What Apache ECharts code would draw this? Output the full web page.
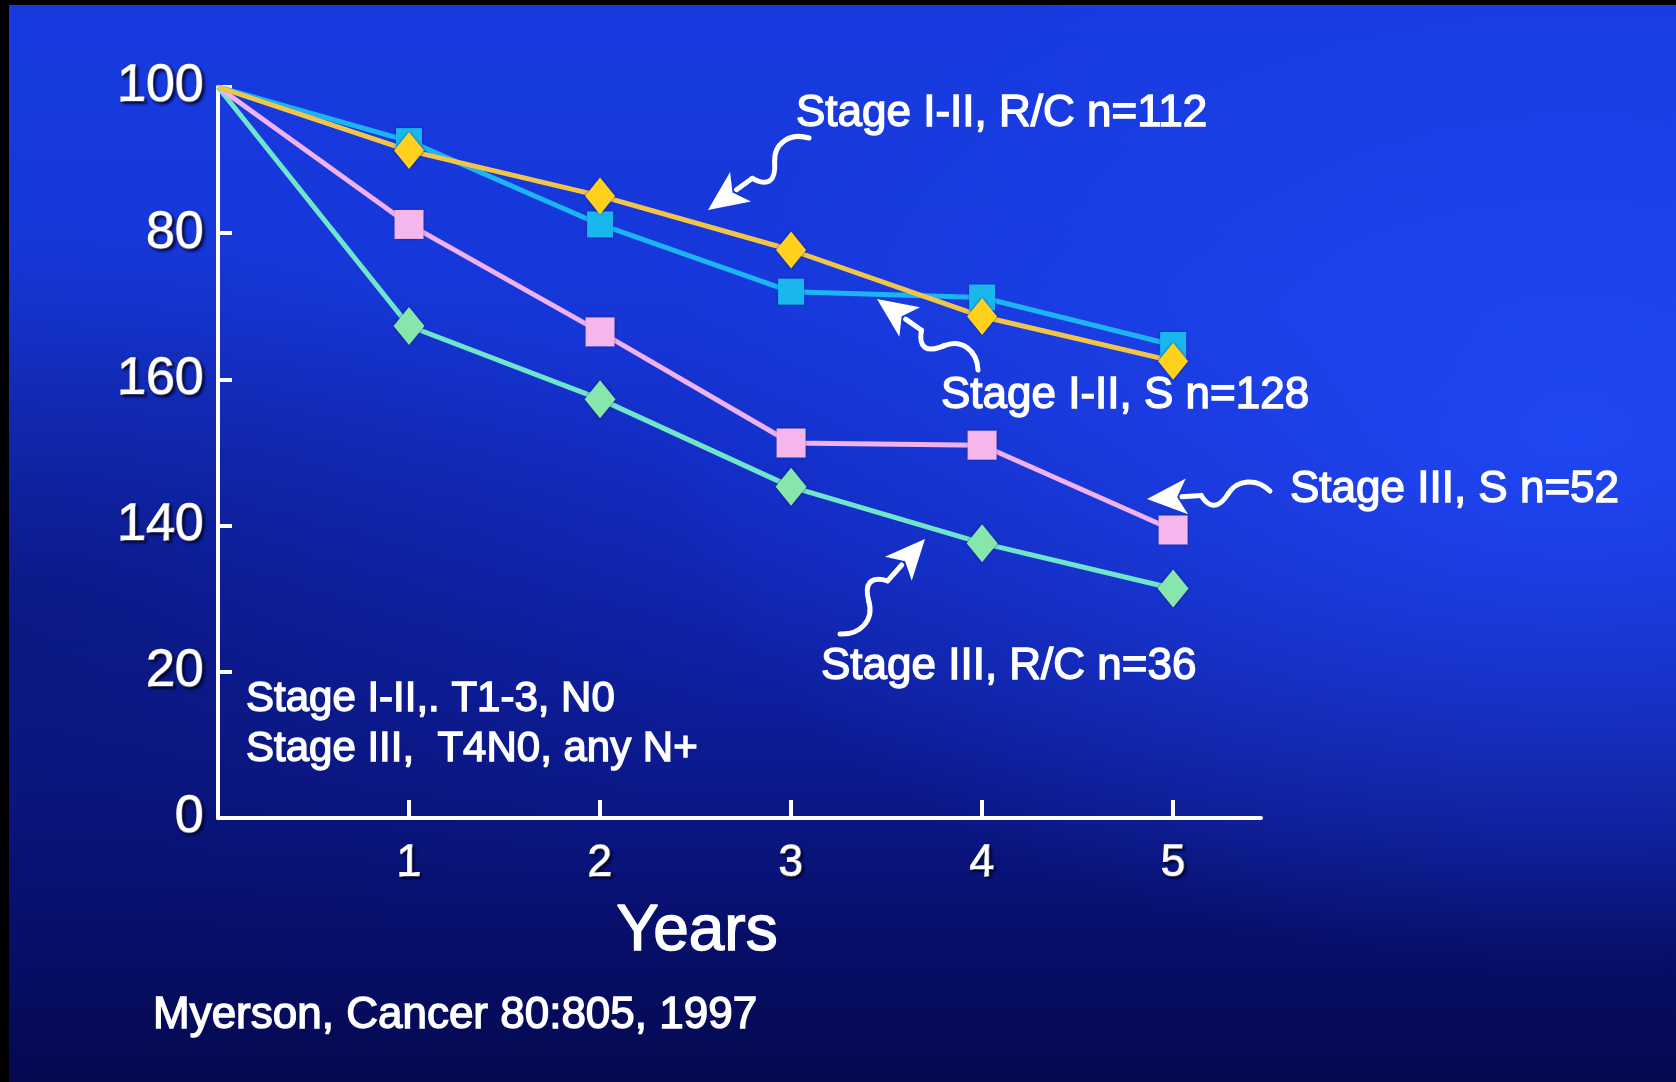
<!DOCTYPE html>
<html>
<head>
<meta charset="utf-8">
<script src="https://cdn.jsdelivr.net/npm/echarts@6/dist/echarts.min.js"></script>
<style>
  html, body { margin: 0; padding: 0; width: 1676px; height: 1082px; background: #000; overflow: hidden; }
  #bg { position: absolute; left: 9px; top: 5px; width: 1667px; height: 1077px;
    background:
      radial-gradient(ellipse 55% 50% at 94% 40%, rgba(34,74,250,0.85), rgba(34,74,250,0) 100%),
      radial-gradient(ellipse 45% 35% at 0% 55%, rgba(4,8,70,0.4), rgba(4,8,70,0) 100%),
      linear-gradient(180deg, #173ae0 0%, #1637d8 28%, #1128ba 50%, #0c1a90 70%, #070e68 87%, #050950 100%);
  }
  #chart { position: absolute; left: 0; top: 0; width: 1676px; height: 1082px; }
</style>
</head>
<body>
<div id="bg"></div>
<div id="chart"></div>
<script>
// ---- data ----
const years = [0, 1, 2, 3, 4, 5];
const stageEarlyRC = [100, 91.3, 85.1, 77.7, 68.6, 62.5];   // Stage I-II, R/C n=112
const stageEarlyS  = [100, 92.6, 81.2, 72.0, 71.2, 64.7];   // Stage I-II, S n=128
const stageLateS   = [100, 81.2, 66.5, 51.3, 51.0, 39.4];   // Stage III, S n=52
const stageLateRC  = [100, 67.3, 57.3, 45.3, 37.6, 31.4];   // Stage III, R/C n=36
const yTickValues = [0, 20, 40, 60, 80, 100];
const yTickLabels = ['0', '20', '140', '160', '80', '100'];
const xTickLabels = ['1', '2', '3', '4', '5'];

const FONT = '"Liberation Sans", Arial, Helvetica, sans-serif';
const shadow = { textShadowColor: 'rgba(0,0,40,0.85)', textShadowBlur: 3, textShadowOffsetX: 2, textShadowOffsetY: 2,
                 textBorderColor: '#ffffff', textBorderWidth: 1.4 };

function toData(vals) {
  return years.map((x, i) => i === 0 ? { value: [x, vals[i]], symbol: 'none' } : [x, vals[i]]);
}

function lineSeries(name, vals, lineColor, markColor, symbol, size) {
  return {
    name, type: 'line', data: toData(vals),
    symbol, symbolSize: size, showAllSymbol: true,
    lineStyle: { color: lineColor, width: 5 },
    itemStyle: { color: markColor, borderWidth: 0, shadowColor: 'rgba(0,0,60,0.5)', shadowBlur: 3 },
    emphasis: { disabled: true }, animation: false, z: 3
  };
}

function wavyArrow(tail, tip, amp) {
  const dx = tip[0] - tail[0], dy = tip[1] - tail[1];
  const L = Math.hypot(dx, dy);
  const d = [dx / L, dy / L], n = [-d[1], d[0]];
  const p = (t, o) => [tail[0] + d[0] * L * t + n[0] * o, tail[1] + d[1] * L * t + n[1] * o];
  const hb = 1 - 40 / L;
  const st = { stroke: '#ffffff', lineWidth: 5, fill: null, lineCap: 'round', lineJoin: 'round' };
  const bez = (a, c1, c2, b) => ({
    type: 'bezierCurve', z: 10,
    shape: { x1: a[0], y1: a[1], cpx1: c1[0], cpy1: c1[1], cpx2: c2[0], cpy2: c2[1], x2: b[0], y2: b[1] },
    style: st
  });
  const a0 = p(0, 0), a1 = p(0.34, 0), a2 = p(0.56, 0), a3 = p(hb + 0.04, 0);
  const head = [p(1, 0), p(hb, 18), p(hb + 0.08, 0), p(hb, -18)];
  return [
    bez(a0, p(0.1, amp), p(0.26, amp), a1),
    bez(a1, p(0.42, -amp), p(0.5, -amp), a2),
    { type: 'line', z: 10, shape: { x1: a2[0], y1: a2[1], x2: a3[0], y2: a3[1] }, style: st },
    { type: 'polygon', z: 10, shape: { points: head }, style: { fill: '#ffffff' } }
  ];
}

function label(text, x, y, size, align) {
  return {
    type: 'text', x, y, z: 10,
    style: {
      text, fill: '#ffffff', font: 'normal ' + size + 'px ' + FONT,
      align: align || 'left', verticalAlign: 'middle',
      stroke: '#ffffff', lineWidth: 1.4,
      shadowColor: 'rgba(0,0,40,0.85)', shadowBlur: 3, shadowOffsetX: 2, shadowOffsetY: 2
    }
  };
}

const chart = echarts.init(document.getElementById('chart'), null, { renderer: 'canvas' });
chart.setOption({
  backgroundColor: 'transparent',
  animation: false,
  grid: { left: 218, top: 87, right: 415, bottom: 264, containLabel: false },
  xAxis: {
    type: 'value', min: 0, max: 5.46, interval: 1,
    axisLine: { show: true, onZero: false, lineStyle: { color: '#ffffff', width: 4 } },
    axisTick: { show: true, inside: true, length: 18, customValues: [1, 2, 3, 4, 5], lineStyle: { color: '#ffffff', width: 4 } },
    axisLabel: {
      customValues: [1, 2, 3, 4, 5],
      formatter: v => xTickLabels[Math.round(v) - 1] || '',
      color: '#ffffff', fontSize: 44, fontFamily: FONT, margin: 24, ...shadow
    },
    splitLine: { show: false }
  },
  yAxis: {
    type: 'value', min: 0, max: 100, interval: 20,
    axisLine: { show: true, lineStyle: { color: '#ffffff', width: 4 } },
    axisTick: { show: true, inside: true, length: 14, customValues: [20, 40, 60, 80, 100], lineStyle: { color: '#ffffff', width: 4 } },
    axisLabel: {
      formatter: v => yTickLabels[yTickValues.indexOf(v)],
      color: '#ffffff', fontSize: 52, fontFamily: FONT, margin: 14, ...shadow
    },
    splitLine: { show: false }
  },
  series: [
    lineSeries('Stage III, R/C n=36', stageLateRC, '#6fe6cc', '#86e6ac', 'diamond', [31, 38]),
    lineSeries('Stage III, S n=52', stageLateS, '#f0b2ee', '#f4b6ec', 'rect', 29),
    lineSeries('Stage I-II, S n=128', stageEarlyS, '#1cb4f2', '#1ab6ee', 'rect', 26),
    lineSeries('Stage I-II, R/C n=112', stageEarlyRC, '#f2c44a', '#ffd11c', 'diamond', [30, 37])
  ],
  graphic: [
    label('Stage I-II, R/C n=112', 796, 114, 44),
    label('Stage I-II, S n=128', 941, 396, 44),
    label('Stage III, S n=52', 1290, 490, 44),
    label('Stage III, R/C n=36', 821, 667, 44),
    label('Stage I-II,. T1-3, N0', 246, 699, 42),
    label('Stage III,  T4N0, any N+', 246, 749, 42),
    label('Years', 697, 932, 64, 'center'),
    label('Myerson, Cancer 80:805, 1997', 153, 1016, 44),
    ...wavyArrow([809, 138], [708, 210], 16),
    ...wavyArrow([978, 370], [877, 299], 16),
    ...wavyArrow([1270, 491], [1147, 499], 14),
    ...wavyArrow([840, 634], [925, 539], 16)
  ]
});
</script>
</body>
</html>
